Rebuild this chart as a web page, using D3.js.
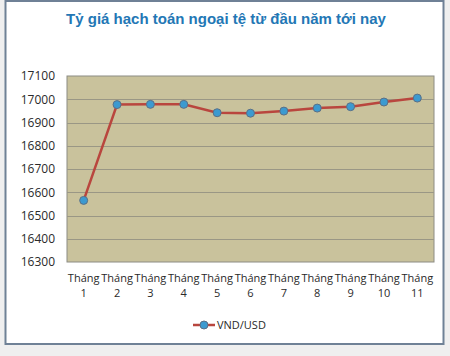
<!DOCTYPE html>
<html><head><meta charset="utf-8">
<script src="https://cdn.jsdelivr.net/npm/d3@7"></script>
<style>html,body{margin:0;padding:0;background:#f0f0f0;}svg{display:block;}</style>
</head><body>
<script>
const categories = ["Tháng 1","Tháng 2","Tháng 3","Tháng 4","Tháng 5","Tháng 6","Tháng 7","Tháng 8","Tháng 9","Tháng 10","Tháng 11"];
const values = [16565, 16977, 16978, 16978, 16942, 16940, 16949, 16962, 16968, 16988, 17005];
const yTicks = [16300,16400,16500,16600,16700,16800,16900,17000,17100];
const seriesName = "VND/USD";
const title = "Tỷ giá hạch toán ngoại tệ từ đầu năm tới nay";

const W = 450, H = 356;
const svg = d3.select("body").append("svg").attr("width", W).attr("height", H);
svg.append("rect").attr("width", W).attr("height", H).attr("fill", "#efefef");
svg.append("rect").attr("x", 5.5).attr("y", 1).attr("width", 438).attr("height", 343)
  .attr("fill", "#ffffff").attr("stroke", "#6f8196").attr("stroke-width", 2);

svg.append("text").attr("x", 226).attr("y", 24).attr("text-anchor", "middle")
  .attr("font-family", "Liberation Sans, Arial, sans-serif").attr("font-weight", "bold")
  .attr("font-size", 15).attr("fill", "#2377b5").text(title);

const L = 67, R = 434, T = 76, B = 262;
const x = d3.scaleBand().domain(categories).range([L, R]);
const y = d3.scaleLinear().domain([16300, 17100]).range([B, T]);

svg.append("rect").attr("x", L).attr("y", T).attr("width", R - L).attr("height", B - T)
  .attr("fill", "#c9c29c").attr("stroke", "#8c8c84").attr("stroke-width", 1);

svg.append("g").selectAll("line").data(yTicks.slice(1, -1)).join("line")
  .attr("x1", L).attr("x2", R).attr("y1", d => Math.round(y(d)) + 0.5).attr("y2", d => Math.round(y(d)) + 0.5)
  .attr("stroke", "#9a9785").attr("stroke-width", 1);

const yAxis = svg.append("g").attr("transform", `translate(${L},0)`)
  .call(d3.axisLeft(y).tickValues(yTicks).tickSize(0).tickPadding(12).tickFormat(d3.format("d")));
yAxis.select(".domain").remove();
yAxis.selectAll("text").attr("font-family", "Open Sans, sans-serif").attr("font-size", 12).attr("fill", "#2a2a2a");

const xg = svg.append("g");
categories.forEach(c => {
  const parts = c.split(" ");
  const cx = x(c) + x.bandwidth() / 2;
  const t = xg.append("text").attr("text-anchor", "middle")
    .attr("font-family", "Open Sans, sans-serif").attr("font-size", 11).attr("fill", "#2a2a2a");
  t.append("tspan").attr("x", cx).attr("y", 282).text(parts[0]);
  t.append("tspan").attr("x", cx).attr("y", 297).text(parts[1]);
});

const line = d3.line().x((d, i) => x(categories[i]) + x.bandwidth() / 2).y(d => y(d));
svg.append("path").datum(values).attr("d", line).attr("fill", "none")
  .attr("stroke", "#b9463e").attr("stroke-width", 2.5);
svg.append("g").selectAll("circle").data(values).join("circle")
  .attr("cx", (d, i) => x(categories[i]) + x.bandwidth() / 2).attr("cy", d => y(d)).attr("r", 4)
  .attr("fill", "#3c9ad0").attr("stroke", "#5b6f86").attr("stroke-width", 1);

const lg = svg.append("g");
lg.append("line").attr("x1", 193).attr("x2", 215).attr("y1", 325).attr("y2", 325)
  .attr("stroke", "#b9463e").attr("stroke-width", 2.5);
lg.append("circle").attr("cx", 204).attr("cy", 325).attr("r", 4)
  .attr("fill", "#3c9ad0").attr("stroke", "#5b6f86").attr("stroke-width", 1);
lg.append("text").attr("x", 217).attr("y", 329).attr("font-family", "Open Sans, sans-serif")
  .attr("font-size", 11).attr("fill", "#2a2a2a").text(seriesName);
</script>
</body></html>
